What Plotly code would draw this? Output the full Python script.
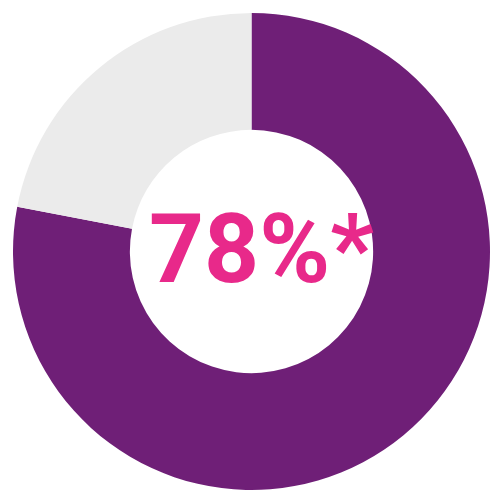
import plotly.graph_objects as go

labels = ["Yes", "No"]
values = [78, 22]
colors = ["#6f1f77", "#ebebeb"]
center_text = "78%*"

fig = go.Figure(go.Pie(
    labels=labels,
    values=values,
    hole=0.51,
    sort=False,
    direction="clockwise",
    rotation=0,
    marker=dict(colors=colors, line=dict(width=0)),
    textinfo="none",
    hoverinfo="none",
    showlegend=False,
))

fig.add_annotation(
    text="<b>" + center_text + "</b>",
    x=0.5, y=0.5, xref="paper", yref="paper",
    yshift=3, xshift=10,
    showarrow=False,
    font=dict(family="Roboto", size=96, color="#e8298a"),
    xanchor="center", yanchor="middle",
)

fig.update_layout(
    width=492, height=492,
    margin=dict(l=5, r=10, t=5, b=10),
    paper_bgcolor="white",
    plot_bgcolor="white",
)

fig.write_html("out.html")
